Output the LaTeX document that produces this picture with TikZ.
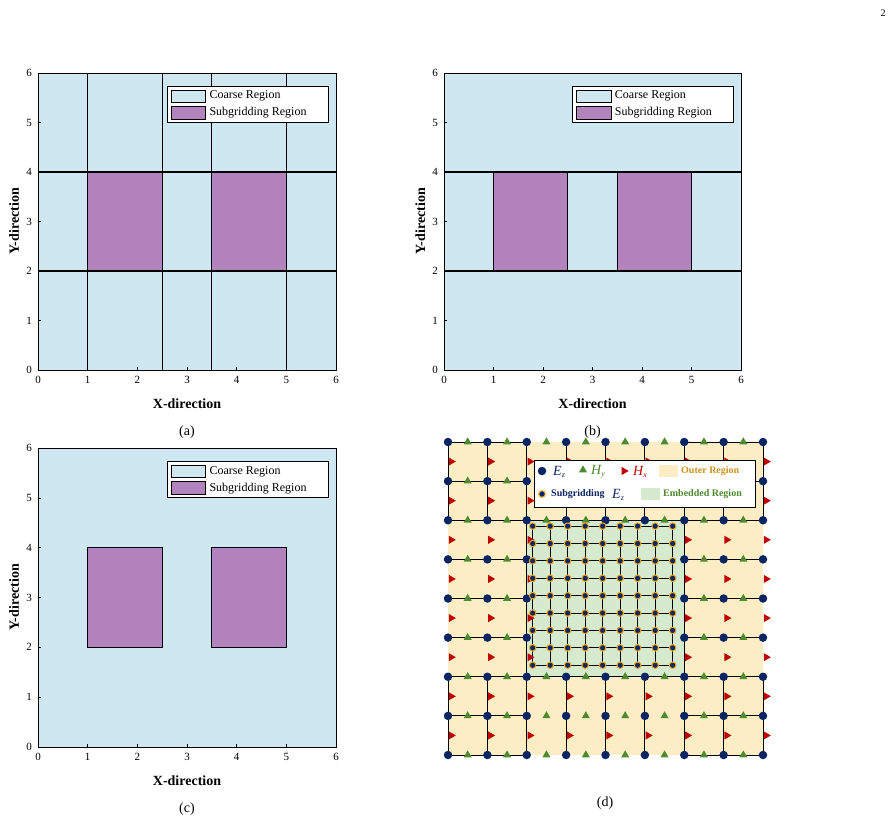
\documentclass[tikz,border=0pt]{standalone}
\usepackage{fontspec}
\setmainfont{Liberation Serif}
\usetikzlibrary{shapes.geometric}
\definecolor{coarse}{HTML}{CFE7F0}
\definecolor{subg}{HTML}{B283BD}
\definecolor{outer}{HTML}{FDEDC5}
\definecolor{embed}{HTML}{D6EAD0}
\definecolor{navy}{HTML}{0B2462}
\definecolor{hy}{HTML}{4E8A2E}
\definecolor{hx}{HTML}{C00000}
\definecolor{gold}{HTML}{E8A814}
\definecolor{goldtxt}{HTML}{C9921A}
\tikzset{
 ticktxt/.style={font=\fontsize{11}{11}\selectfont},
 axlab/.style={font=\bfseries\fontsize{14}{14}\selectfont},
 captxt/.style={font=\fontsize{14}{14}\selectfont},
 gridln/.style={draw=black,line width=1.1pt},
 legtxt/.style={font=\fontsize{12}{12}\selectfont,anchor=west,inner sep=0pt},
 ez/.style={circle,fill=navy,inner sep=0pt,minimum size=8.5pt},
 fez/.style={circle,fill=navy,draw=gold,line width=1pt,inner sep=0pt,minimum size=6.5pt},
 hyt/.style={isosceles triangle,isosceles triangle apex angle=60,shape border rotate=90,fill=hy,inner sep=0pt,minimum height=7pt},
 hxt/.style={isosceles triangle,isosceles triangle apex angle=60,fill=hx,inner sep=0pt,minimum height=7pt},
}
\newcommand{\axesfr}{%
 \foreach \t in {0,...,6}{
  \node[ticktxt,anchor=north] at (\t,-0.05) {\t};
  \node[ticktxt,anchor=east] at (-0.05,\t) {\t};
  \draw[line width=0.4pt] (\t,0) -- (\t,0.06);
  \draw[line width=0.4pt] (0,\t) -- (0.06,\t);}
 \draw[line width=0.6pt] (0,0) rectangle (6,6);
 \node[axlab] at (3,-0.68) {X-direction};
 \node[axlab,rotate=90] at (-0.48,3) {Y-direction};
 \node[captxt] at (3,-1.25) {(\thecap)};}
\newcommand{\legfr}{%
 \draw[fill=white,line width=1pt] (2.6,5.0) rectangle (5.85,5.72);
 \draw[fill=coarse,line width=1pt] (2.68,5.4) rectangle (3.38,5.65);
 \draw[fill=subg,line width=1pt] (2.68,5.07) rectangle (3.38,5.32);
 \node[legtxt] at (3.45,5.53) {Coarse Region};
 \node[legtxt] at (3.45,5.19) {Subgridding Region};}
\begin{document}
\begin{tikzpicture}[x=1pt,y=-1pt]
\useasboundingbox (0,0) rectangle (896,821);
\node[font=\fontsize{10}{10}\selectfont] (pg) at (883,13) {2};
% (a)
\begin{scope}[shift={(38,370)},x=49.67pt,y=49.5pt]
 \def\thecap{a}
 \fill[coarse] (0,0) rectangle (6,6);
 \fill[subg] (1,2) rectangle (2.5,4) (3.5,2) rectangle (5,4);
 \foreach \v in {1,2.5,3.5,5} \draw[gridln] (\v,0) -- (\v,6);
 \foreach \h in {2,4} \draw[gridln] (0,\h) -- (6,\h);
 \axesfr \legfr
\end{scope}
% (b)
\begin{scope}[shift={(444,370)},x=49.5pt,y=49.5pt]
 \def\thecap{b}
 \fill[coarse] (0,0) rectangle (6,6);
 \fill[subg] (1,2) rectangle (2.5,4) (3.5,2) rectangle (5,4);
 \foreach \v in {1,2.5,3.5,5} \draw[gridln] (\v,2) -- (\v,4);
 \foreach \h in {2,4} \draw[gridln] (0,\h) -- (6,\h);
 \axesfr \legfr
\end{scope}
% (c)
\begin{scope}[shift={(38,747)},x=49.67pt,y=49.83pt]
 \def\thecap{c}
 \fill[coarse] (0,0) rectangle (6,6);
 \draw[fill=subg,line width=1pt] (1,2) rectangle (2.5,4) (3.5,2) rectangle (5,4);
 \axesfr \legfr
\end{scope}
% (d)
\begin{scope}[shift={(448,442)},x=39.375pt,y=-39.125pt]
 \fill[outer] (0,0) rectangle (8,8);
 \fill[embed] (2,2) rectangle (6,6);
 \foreach \i in {0,...,8}{
  \draw[line width=0.9pt] (\i,0) -- (\i,2) (\i,6) -- (\i,8);
  \draw[line width=0.9pt] (0,\i) -- (2,\i) (6,\i) -- (8,\i);}
 \foreach \i in {2,6}{
  \draw[line width=0.9pt] (\i,2) -- (\i,6);
  \draw[line width=0.9pt] (2,\i) -- (6,\i);}
 \foreach \k in {0,...,8}{
  \draw[line width=0.8pt] ({2.15+\k*0.4444},{2.15}) -- ({2.15+\k*0.4444},{5.7});
  \draw[line width=0.8pt] (2.15,{2.15+\k*0.4444}) -- (5.7,{2.15+\k*0.4444});}
 \foreach \i in {0,...,8} \foreach \j in {0,...,8}{
  \pgfmathtruncatemacro{\inn}{(\i>2)&&(\i<6)&&(\j>2)&&(\j<6)}
  \ifnum\inn=0 \node[ez] at (\i,\j) {};\fi}
 \foreach \i in {0,...,7} \foreach \j in {0,...,8}{
  \pgfmathtruncatemacro{\inn}{(\i>1)&&(\i<6)&&(\j>2)&&(\j<6)}
  \ifnum\inn=0 \node[hyt] at (\i+0.5,\j) {};\fi}
 \foreach \i in {0,...,8} \foreach \j in {0,...,7}{
  \pgfmathtruncatemacro{\inn}{(\i>2)&&(\i<6)&&(\j>1)&&(\j<6)}
  \ifnum\inn=0 \node[hxt] at (\i+0.08,\j+0.5) {};\fi}
 \foreach \a in {0,...,8} \foreach \b in {0,...,8}
  \node[fez] at ({2.15+\a*0.4444},{2.15+\b*0.4444}) {};
\end{scope}
\draw[fill=white,line width=0.8pt] (534,460) rectangle (755,507);
\node[ez] (l1) at (542,471) {};
\node[legtxt,text=navy,font=\itshape\fontsize{14}{14}\selectfont] at (553,472) {E\raisebox{-0.35ex}{\fontsize{8}{8}\selectfont z}};
\node[hyt] (l2) at (583,470) {};
\node[legtxt,text=hy,font=\itshape\fontsize{14}{14}\selectfont] at (591,472) {H\raisebox{-0.35ex}{\fontsize{8}{8}\selectfont y}};
\node[hxt] (l3) at (624,471) {};
\node[legtxt,text=hx,font=\itshape\fontsize{14}{14}\selectfont] at (633,472) {H\raisebox{-0.35ex}{\fontsize{8}{8}\selectfont x}};
\fill[outer] (659,465) rectangle (678,477);
\node[legtxt,text=goldtxt,font=\bfseries\fontsize{10}{10}\selectfont] at (681,471) {Outer Region};
\node[fez] (l4) at (542,494) {};
\node[legtxt,text=navy,font=\bfseries\fontsize{10}{10}\selectfont] at (551,494) {Subgridding};
\node[legtxt,text=navy,font=\itshape\fontsize{14}{14}\selectfont] at (612,495) {E\raisebox{-0.35ex}{\fontsize{8}{8}\selectfont z}};
\fill[embed] (641,488) rectangle (660,500);
\node[legtxt,text=hy,font=\bfseries\fontsize{10}{10}\selectfont] at (663,494) {Embedded Region};
\node[captxt] (capd) at (605,803) {(d)};
\end{tikzpicture}
\end{document}
